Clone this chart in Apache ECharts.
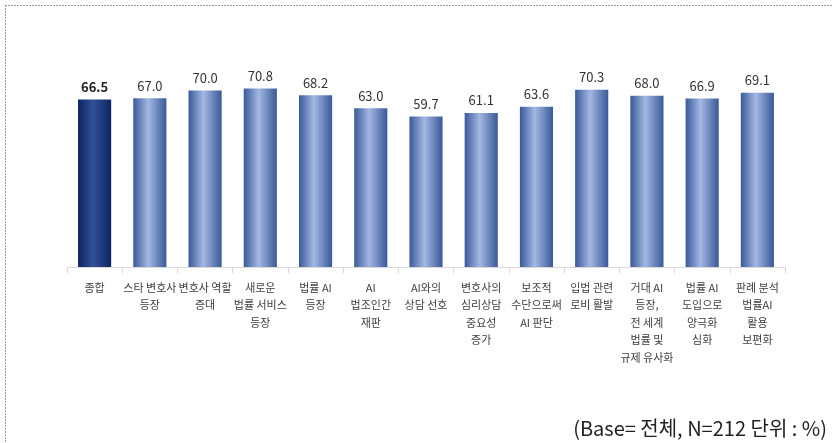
<!DOCTYPE html>
<html><head><meta charset="utf-8">
<script src="https://cdn.jsdelivr.net/npm/echarts@6/dist/echarts.min.js"></script>
<style>html,body{margin:0;padding:0;background:#fff}#c{width:833px;height:443px}</style>
</head><body><div id="c"></div>
<script>
const categories = [
  '종합',
  '스타 변호사\n등장',
  '변호사 역할\n증대',
  '새로운\n법률 서비스\n등장',
  '법률 AI\n등장',
  'AI\n법조인간\n재판',
  'AI와의\n상담 선호',
  '변호사의\n심리상담\n중요성\n증가',
  '보조적\n수단으로써\nAI 판단',
  '입법 관련\n로비 활발',
  '거대 AI\n등장,\n전 세계\n법률 및\n규제 유사화',
  '법률 AI\n도입으로\n양극화\n심화',
  '판례 분석\n법률AI\n활용\n보편화'
];
const values = [66.5, 67.0, 70.0, 70.8, 68.2, 63.0, 59.7, 61.1, 63.6, 70.3, 68.0, 66.9, 69.1];
const sourceNote = '(Base= 전체, N=212 단위 : %)';

const font = '"Noto Sans CJK KR", "Noto Sans", sans-serif';
const grad = (edge, mid) => ({
  type: 'linear', x: 0, y: 0, x2: 1, y2: 0,
  colorStops: [
    {offset: 0, color: edge},
    {offset: 0.45, color: mid},
    {offset: 1, color: edge}
  ]
});
const data = values.map((v, i) => i === 0 ? {
  value: v,
  itemStyle: {color: grad('#0d2461', '#2f5296')},
  label: {fontWeight: 'bold', color: '#222'}
} : {
  value: v,
  itemStyle: {color: grad('#3a5999', '#a3b8e2')}
});

const chart = echarts.init(document.getElementById('c'), null, {renderer: 'canvas'});
chart.setOption({
  animation: false,
  backgroundColor: '#fff',
  textStyle: {fontFamily: font},
  grid: {left: 67, right: 48, top: 15, height: 252, containLabel: false},
  xAxis: {
    type: 'category',
    data: categories,
    boundaryGap: true,
    axisLine: {lineStyle: {color: '#d9d9d9', width: 1}},
    axisTick: {show: true, alignWithLabel: false, length: 6, lineStyle: {color: '#d9d9d9'}},
    axisLabel: {
      interval: 0, color: '#404040', fontSize: 11, lineHeight: 17.5,
      fontFamily: font, margin: 12
    }
  },
  yAxis: {type: 'value', min: 0, max: 100, show: false, splitLine: {show: false}},
  series: [{
    type: 'bar',
    data: data,
    barWidth: '60%',
    label: {
      show: true, position: 'top', distance: 6,
      formatter: p => p.value.toFixed(1),
      fontSize: 13, color: '#333', fontFamily: font
    }
  }],
  graphic: [
    {type: 'line', shape: {x1: 5, y1: 5.5, x2: 833, y2: 5.5}, style: {stroke: '#9a9a9a', lineWidth: 1, lineDash: [2, 1]}},
    {type: 'line', shape: {x1: 5.5, y1: 5, x2: 5.5, y2: 443}, style: {stroke: '#9a9a9a', lineWidth: 1, lineDash: [2, 1]}},
    {type: 'text', x: 827, y: 428, style: {text: sourceNote, font: '20px ' + font, fill: '#222', textAlign: 'right', textVerticalAlign: 'middle'}}
  ]
});
</script></body></html>
